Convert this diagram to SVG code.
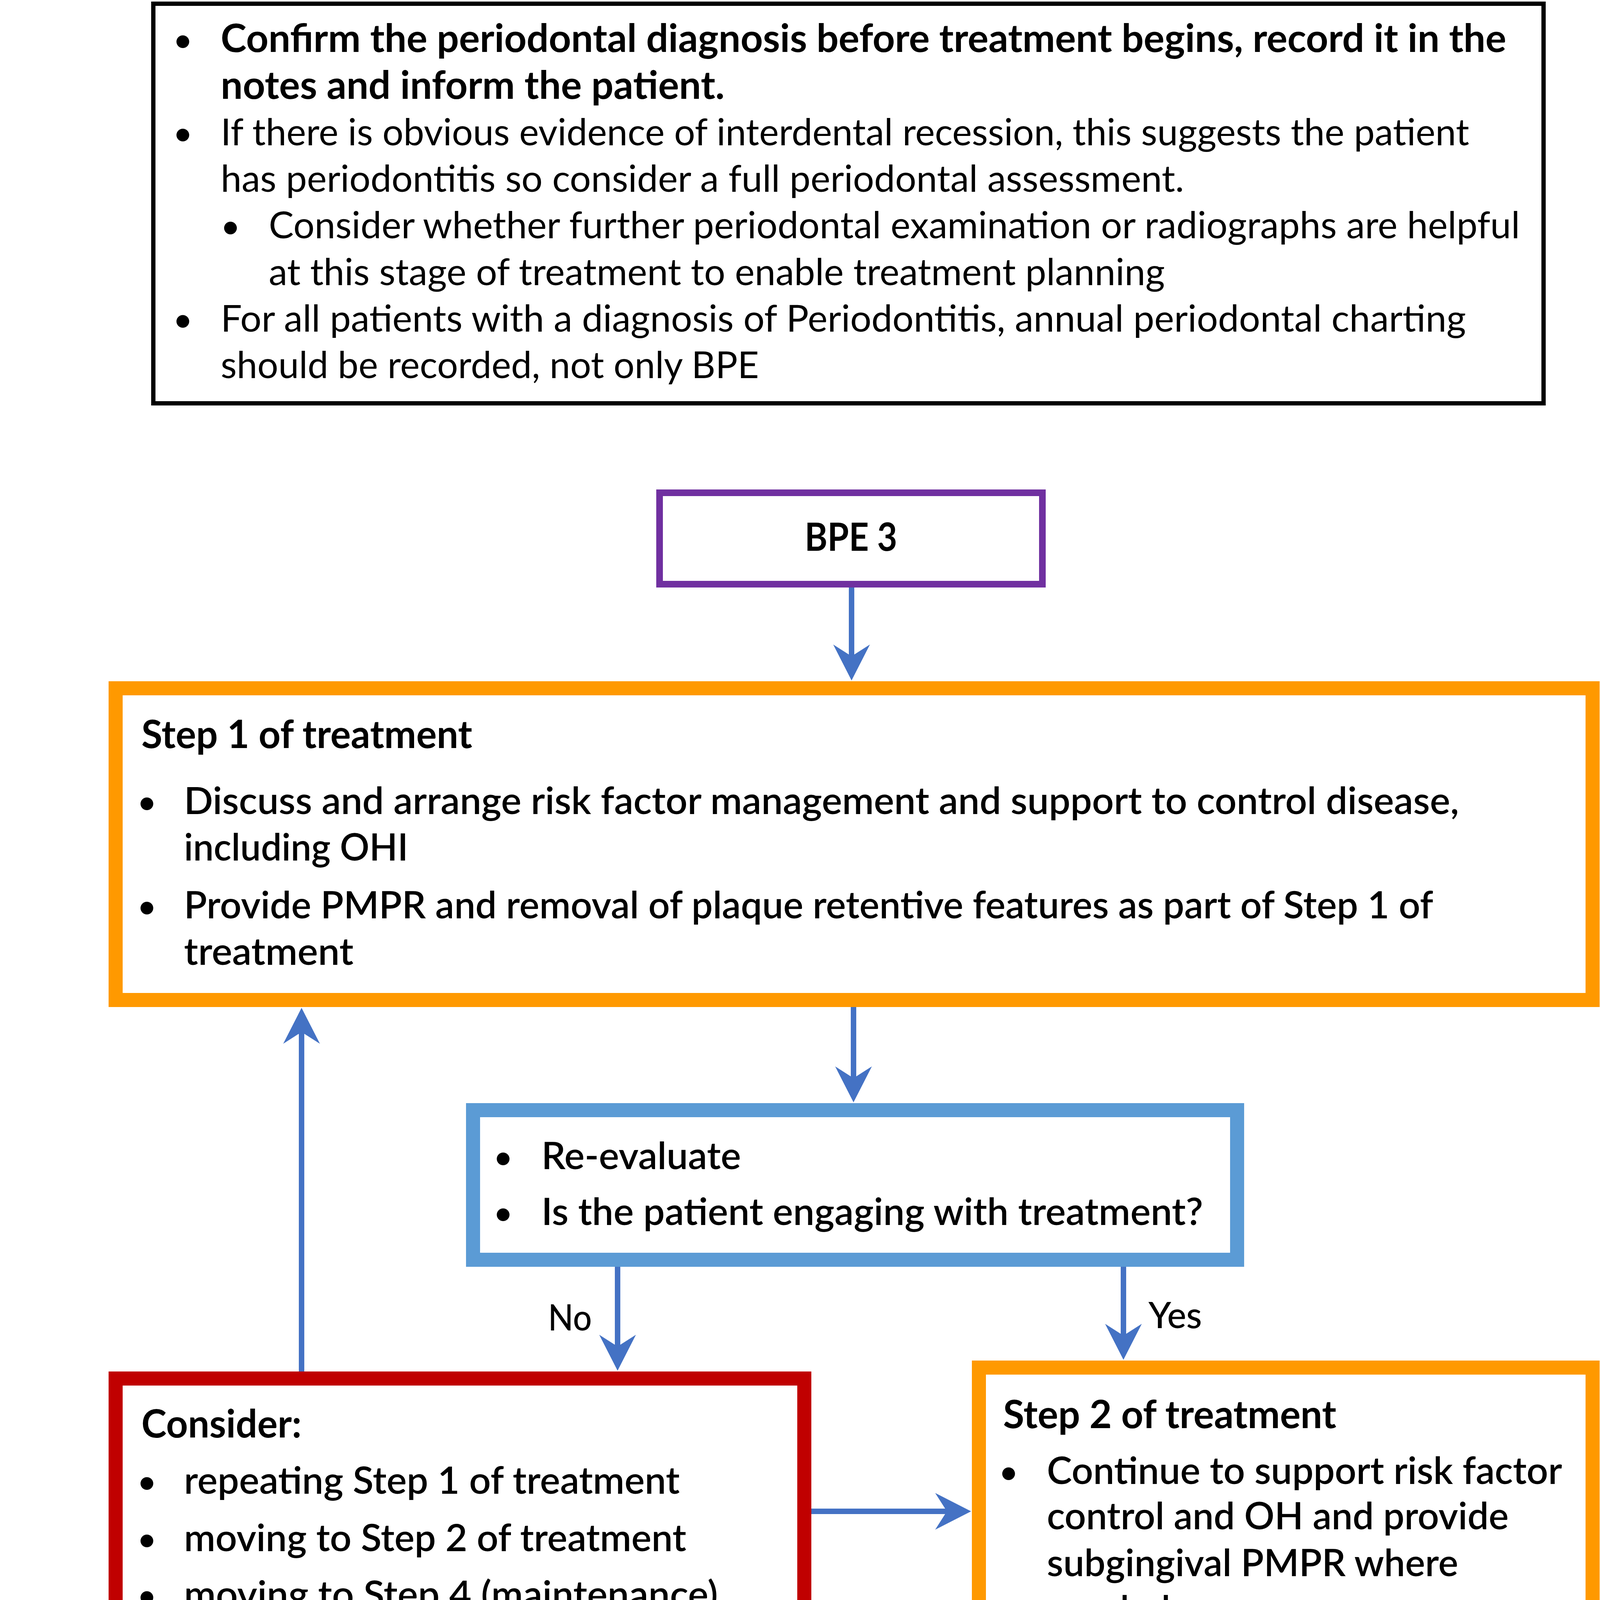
<svg xmlns="http://www.w3.org/2000/svg" width="4347" height="7976" viewBox="0 0 4347 7976">
<style>
text{font-family:Lato,"Liberation Sans",sans-serif;fill:#000}
.b{font-weight:700;font-size:99px}
.s{font-weight:600;font-size:97px}
.r{font-weight:400;font-size:95px}
.m{font-weight:500;font-size:93px}
.bl{font-weight:400;font-size:88px;text-anchor:middle}
.box{fill:#fff}
.orange{stroke:#FF9900;stroke-width:36}
.blue{stroke:#5B9BD5;stroke-width:36}
.red{stroke:#C00000;stroke-width:36}
.green{stroke:#70AD47;stroke-width:36}
.purple{stroke:#7030A0;stroke-width:17}
.black{stroke:#000;stroke-width:11}
.c{fill:none;stroke:#4472C4;stroke-width:14;marker-end:url(#ah)}
</style>
<defs>
<marker id="ah" markerUnits="userSpaceOnUse" viewBox="-100 -50 100 100" markerWidth="100" markerHeight="100" refX="-60" refY="0" orient="auto">
<path d="M0,0 L-92,-47 L-62,0 L-92,47 Z" fill="#4472C4"/>
</marker>
</defs>
<rect width="4347" height="7976" fill="#fff"/>

<g id="intro">
<rect class="box black" x="392.5" y="9.5" width="3559" height="1023"/>
<text class="bl" x="468" y="133">•</text>
<text class="b" x="565" y="133" textLength="3291" lengthAdjust="spacingAndGlyphs">Confirm the periodontal diagnosis before treatment begins, record it in the</text>
<text class="b" x="565" y="253" textLength="1290" lengthAdjust="spacingAndGlyphs">notes and inform the patient.</text>
<text class="bl" x="468" y="372">•</text>
<text class="r" x="565" y="372" textLength="3196" lengthAdjust="spacingAndGlyphs">If there is obvious evidence of interdental recession, this suggests the patient</text>
<text class="r" x="565" y="491" textLength="2466" lengthAdjust="spacingAndGlyphs">has periodontitis so consider a full periodontal assessment.</text>
<text class="bl" x="590" y="610">•</text>
<text class="r" x="688" y="610" textLength="3203" lengthAdjust="spacingAndGlyphs">Consider whether further periodontal examination or radiographs are helpful</text>
<text class="r" x="688" y="730" textLength="2294" lengthAdjust="spacingAndGlyphs">at this stage of treatment to enable treatment planning</text>
<text class="bl" x="468" y="849">•</text>
<text class="r" x="565" y="849" textLength="3188" lengthAdjust="spacingAndGlyphs">For all patients with a diagnosis of Periodontitis, annual periodontal charting</text>
<text class="r" x="565" y="968" textLength="1378" lengthAdjust="spacingAndGlyphs">should be recorded, not only BPE</text>
</g>

<g id="bpe3">
<rect class="box purple" x="1688.5" y="1261.5" width="980" height="234"/>
<text class="b" x="2060" y="1410" textLength="237" lengthAdjust="spacingAndGlyphs">BPE 3</text>
</g>

<g id="step1">
<rect class="box orange" x="296" y="1762" width="3781" height="798"/>
<text class="b" x="362" y="1915" textLength="847" lengthAdjust="spacingAndGlyphs">Step 1 of treatment</text>
<text class="bl" x="376" y="2084">•</text>
<text class="s" x="471" y="2084" textLength="3264" lengthAdjust="spacingAndGlyphs">Discuss and arrange risk factor management and support to control disease,</text>
<text class="s" x="471" y="2203" textLength="574" lengthAdjust="spacingAndGlyphs">including OHI</text>
<text class="bl" x="376" y="2351">•</text>
<text class="s" x="471" y="2351" textLength="3198" lengthAdjust="spacingAndGlyphs">Provide PMPR and removal of plaque retentive features as part of Step 1 of</text>
<text class="s" x="471" y="2470" textLength="434" lengthAdjust="spacingAndGlyphs">treatment</text>
</g>

<g id="reevaluate">
<rect class="box blue" x="1211" y="2842" width="1956" height="383"/>
<text class="bl" x="1288" y="2993">•</text>
<text class="s" x="1386" y="2993" textLength="511" lengthAdjust="spacingAndGlyphs">Re-evaluate</text>
<text class="bl" x="1288" y="3136">•</text>
<text class="s" x="1386" y="3136" textLength="1694" lengthAdjust="spacingAndGlyphs">Is the patient engaging with treatment?</text>
</g>

<g id="consider">
<rect class="box red" x="296" y="3529" width="1763" height="677"/>
<text class="b" x="362" y="3680" textLength="410" lengthAdjust="spacingAndGlyphs">Consider:</text>
<text class="bl" x="376" y="3824">•</text>
<text class="s" x="471" y="3824" textLength="1269" lengthAdjust="spacingAndGlyphs">repeating Step 1 of treatment</text>
<text class="bl" x="376" y="3971">•</text>
<text class="s" x="471" y="3971" textLength="1286" lengthAdjust="spacingAndGlyphs">moving to Step 2 of treatment</text>
<text class="bl" x="376" y="4116">•</text>
<text class="s" x="471" y="4116" textLength="1367" lengthAdjust="spacingAndGlyphs">moving to Step 4 (maintenance)</text>
</g>

<g id="step2">
<rect class="box orange" x="2506" y="3501" width="1571" height="748"/>
<text class="b" x="2568" y="3656" textLength="853" lengthAdjust="spacingAndGlyphs">Step 2 of treatment</text>
<text class="bl" x="2582" y="3799">•</text>
<text class="s" x="2680" y="3799" textLength="1319" lengthAdjust="spacingAndGlyphs">Continue to support risk factor</text>
<text class="s" x="2680" y="3915" textLength="1182" lengthAdjust="spacingAndGlyphs">control and OH and provide</text>
<text class="s" x="2680" y="4035" textLength="1053" lengthAdjust="spacingAndGlyphs">subgingival PMPR where</text>
<text class="s" x="2680" y="4154" textLength="316" lengthAdjust="spacingAndGlyphs">needed</text>
</g>

<g id="review-charting">
<rect class="box blue" x="2506" y="4526" width="1571" height="602"/>
<text class="bl" x="2582" y="4676">•</text>
<text class="s" x="2680" y="4676" textLength="1155" lengthAdjust="spacingAndGlyphs">Allow time for healing then</text>
<text class="s" x="2680" y="4797" textLength="1221" lengthAdjust="spacingAndGlyphs">carry out review periodontal</text>
<text class="s" x="2680" y="4915" textLength="1267" lengthAdjust="spacingAndGlyphs">charting (not BPE) in sextants</text>
<text class="s" x="2680" y="5035" textLength="1127" lengthAdjust="spacingAndGlyphs">where BPE 3 was recorded</text>
</g>

<g id="stable-check">
<rect class="box blue" x="2506" y="5400" width="1571" height="479"/>
<text class="bl" x="2582" y="5550">•</text>
<text class="s" x="2680" y="5550" textLength="1169" lengthAdjust="spacingAndGlyphs">Is the patient periodontally</text>
<text class="s" x="2680" y="5670" textLength="1246" lengthAdjust="spacingAndGlyphs">stable or are treatment goals</text>
<text class="s" x="2680" y="5789" textLength="428" lengthAdjust="spacingAndGlyphs">achieved?</text>
</g>

<g id="reasons">
<rect class="box red" x="565" y="5472" width="1475" height="359"/>
<text class="bl" x="643" y="5625">•</text>
<text class="s" x="741" y="5625" textLength="915" lengthAdjust="spacingAndGlyphs">Consider the possible</text>
<text class="s" x="741" y="5744" textLength="658" lengthAdjust="spacingAndGlyphs">reasons for this</text>
</g>

<g id="step3">
<rect class="box orange" x="565" y="6096" width="1475" height="627"/>
<text class="b" x="627" y="6246" textLength="853" lengthAdjust="spacingAndGlyphs">Step 3 of treatment</text>
<text class="bl" x="643" y="6393">•</text>
<text class="s" x="741" y="6393" textLength="1181" lengthAdjust="spacingAndGlyphs">Provide Step 3 of treatment</text>
<text class="s" x="741" y="6513" textLength="1234" lengthAdjust="spacingAndGlyphs">(repeated subgingival PMPR)</text>
<text class="s" x="741" y="6629" textLength="861" lengthAdjust="spacingAndGlyphs">or consider referral*</text>
</g>

<g id="review-post">
<rect class="box blue" x="565" y="6984" width="1475" height="502"/>
<text class="bl" x="643" y="7134">•</text>
<text class="s" x="741" y="7134" textLength="988" lengthAdjust="spacingAndGlyphs">Review post-treatment</text>
<text class="bl" x="643" y="7277">•</text>
<text class="s" x="741" y="7277" textLength="1118" lengthAdjust="spacingAndGlyphs">Is the patient stable or are</text>
<text class="s" x="741" y="7397" textLength="1132" lengthAdjust="spacingAndGlyphs">treatment goals achieved?</text>
</g>

<g id="step4">
<rect class="box green" x="2492" y="6351" width="1585" height="1135"/>
<text class="b" x="2557" y="6503" textLength="850" lengthAdjust="spacingAndGlyphs">Step 4 of treatment</text>
<text class="bl" x="2571" y="6646">•</text>
<text class="s" x="2666" y="6646" textLength="1344" lengthAdjust="spacingAndGlyphs">Arrange appropriate risk-based</text>
<text class="s" x="2666" y="6765" textLength="1274" lengthAdjust="spacingAndGlyphs">recall and Step 4 of treatment</text>
<text class="s" x="2666" y="6884" textLength="624" lengthAdjust="spacingAndGlyphs">(maintenance)</text>
<text class="bl" x="2571" y="7029">•</text>
<text class="s" x="2666" y="7029" textLength="1211" lengthAdjust="spacingAndGlyphs">Record periodontal charting</text>
<text class="s" x="2666" y="7148" textLength="1305" lengthAdjust="spacingAndGlyphs">annually for all patients with a</text>
<text class="s" x="2666" y="7266" textLength="1092" lengthAdjust="spacingAndGlyphs">diagnosis of periodontitis</text>
<text class="s" x="2666" y="7389" textLength="758" lengthAdjust="spacingAndGlyphs">(i.e. not only BPE)</text>
</g>

<g id="footnote">
<rect class="box purple" x="12.5" y="7626.5" width="4318" height="337"/>
<text class="m" x="73" y="7765" textLength="2688" lengthAdjust="spacingAndGlyphs">* Referral can be considered at any step, check local referral criteria.</text>
<text class="m" x="112" y="7880" textLength="4140" lengthAdjust="spacingAndGlyphs">If referral is not possible, provide further subgingival PMPR, where possible, and then Step 4 of treatment</text>
</g>

<g id="connectors">
<path class="c" d="M2180,1504 V1682"/>
<path class="c" d="M2185,2578 V2762"/>
<path class="c" d="M1581,3243 V3449"/>
<path class="c" d="M2876,3243 V3421"/>
<path class="c" d="M772,3511 V2640"/>
<path class="c" d="M2077,3869 H2426"/>
<path class="c" d="M3290,4267 V4446"/>
<path class="c" d="M3288,5146 V5320"/>
<path class="c" d="M2488,5630 H2120"/>
<path class="c" d="M3292,5897 V6271"/>
<path class="c" d="M1302,5849 V6016"/>
<path class="c" d="M1305,6741 V6904"/>
<path class="c" d="M2058,7235 H2420"/>
<path class="c" d="M547,7235 H296 V5653 H488"/>
<text class="m" x="1403" y="3406" textLength="112" lengthAdjust="spacingAndGlyphs">No</text>
<text class="m" x="2940" y="3400" textLength="137" lengthAdjust="spacingAndGlyphs">Yes</text>
<text class="m" x="2210" y="5546" textLength="112" lengthAdjust="spacingAndGlyphs">No</text>
<text class="m" x="3354" y="6127" textLength="136" lengthAdjust="spacingAndGlyphs">Yes</text>
<text class="m" x="365" y="7134" textLength="112" lengthAdjust="spacingAndGlyphs">No</text>
<text class="m" x="2189" y="7140" textLength="138" lengthAdjust="spacingAndGlyphs">Yes</text>
</g>
</svg>
